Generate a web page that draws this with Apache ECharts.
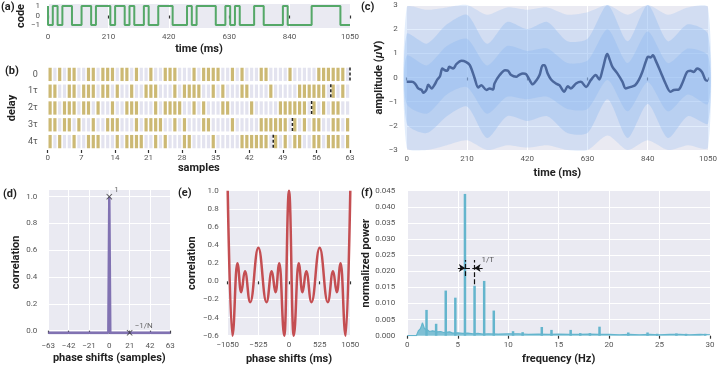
<!DOCTYPE html>
<html><head><meta charset="utf-8">
<script src="https://cdn.jsdelivr.net/npm/echarts@6/dist/echarts.min.js"></script>
<style>html,body{margin:0;padding:0;background:#fff}#c{width:720px;height:367px}</style>
</head><body><div id="c"></div>
<script>
const FONT = 'Roboto,"Liberation Sans",sans-serif';

// ---------- (a) / (b) code and its delayed copies ----------
const codeMsTotal = 1050;
const delayLabels = ['0', '1\u03c4', '2\u03c4', '3\u03c4', '4\u03c4'];
const delayRows = [
  "1010110 0110111 0110100 1001110 0010111 1001010 0011000 0100000 1111110",
  "110 0110111 0110100 1001110 0010111 1001010 0011000 0100000 1111110 1010",
  "110111 0110100 1001110 0010111 1001010 0011000 0100000 1111110 10101100",
  "11 0110100 1001110 0010111 1001010 0011000 0100000 1111110 1010110 01101",
  "10100 1001110 0010111 1001010 0011000 0100000 1111110 1010110 0110111 01"
];
const wrapMarks = [63, 59, 55, 51, 47];
const codeYTicks = [-1, 0, 1];

// ---------- (c) averaged response and trial cloud ----------
const cTimes = [0,18,29,40,52,58,69,75,87,98,106,116,124,133,142,148,162,173,191,206,220,237,249,260,278,289,301,306,324,343,353,364,382,391,405,416,428,439,453,463,474,480,491,503,520,532,549,561,572,590,607,625,642,659,671,682,694,699,708,717,734,752,763,781,796,809,821,833,841,850,858,867,885,902,919,931,948,960,977,989,1000,1012,1029,1041,1050];
const cMean = [-0.18,-0.18,-0.25,-0.45,-0.52,-0.63,-0.5,-0.3,-0.45,-0.28,-0.1,0.05,0.37,0.3,0.28,0.44,0.37,0.55,0.69,0.65,0.51,-0.04,-0.41,-0.32,-0.52,-0.45,-0.5,-0.25,0.1,0.3,0.28,0.1,0.03,0.1,0.17,0.14,-0.1,-0.28,-0.1,0.1,0.51,0.51,0.17,-0.08,-0.25,-0.32,-0.59,-0.36,-0.45,-0.25,-0.18,-0.39,-0.1,0.1,-0.08,0.3,0.86,0.97,0.72,0.44,0.17,-0.18,-0.45,-0.39,-0.32,-0.1,0.23,0.65,0.86,0.83,0.92,0.72,0.23,-0.25,-0.59,-0.52,-0.5,-0.25,0.23,0.28,0.23,0.37,0.23,-0.1,-0.14];
const envT    = [0,70,140,210,280,350,420,490,560,630,700,770,840,910,980,1050];
const outerHi = [2.9,2.8,2.9,3.0,2.6,2.9,2.8,2.9,2.6,2.7,3.0,2.6,3.0,2.6,2.9,2.9];
const outerLo = [-2.9,-3.0,-2.8,-2.6,-3.0,-2.8,-2.9,-2.8,-3.0,-3.0,-2.4,-3.0,-2.6,-3.0,-2.8,-2.9];
const midHi   = [1.8,1.4,2.2,2.6,1.4,2.3,2.0,2.3,1.5,1.6,3.0,1.5,3.0,1.5,2.2,1.8];
const midLo   = [-1.9,-2.3,-1.6,-1.2,-2.5,-1.6,-1.8,-1.6,-2.3,-2.3,-0.9,-2.5,-1.1,-2.5,-1.6,-1.9];
const coreHi  = [0.9,0.5,1.3,1.6,0.5,1.3,1.1,1.2,0.6,0.7,2.0,0.6,1.9,0.6,1.2,0.9];
const coreLo  = [-1.1,-1.5,-0.7,-0.4,-1.5,-0.8,-0.9,-0.8,-1.3,-1.3,-0.1,-1.4,-0.2,-1.4,-0.7,-1.1];

// ---------- (d) ideal autocorrelation ----------
const dShift = [-63, -1, 0, 1, 63];
const dCorr  = [-0.016, -0.016, 1, -0.016, -0.016];
const dMarks = [[0, 1, '1'], [21, -0.016, '\u22121/N']];
const dYTicks = [0, 0.2, 0.4, 0.6, 0.8, 1.0];

// ---------- (e) autocorrelation of the response ----------
const eShift = [-1050,-970,-885,-820,-755,-665,-525,-385,-295,-230,-165,-80,0,80,165,230,295,385,525,665,755,820,885,970,1050];
const eCorr  = [1.0,-0.6,0.2,-0.12,0.11,-0.23,0.37,-0.23,0.11,-0.12,0.2,-0.6,1.0,-0.6,0.2,-0.12,0.11,-0.23,0.37,-0.23,0.11,-0.12,0.2,-0.6,1.0];

// ---------- (f) power spectrum ----------
const fBaseFreq = [0,0.9,1.0,1.1,1.2,1.3,1.4,1.5,1.6,1.7,1.8,2.0,2.2,2.5,3.0,3.3,3.6,4.2,4.5,5.0,5.5,6.0,6.5,7.0,7.5,8.0,9.0,10,11,12,13,14,15,16,17,18,19,20,21,22,23,24,25,26,27,28,29,30];
const fBasePow  = [0,0,0.0008,0.0015,0.0018,0.0022,0.003,0.004,0.0038,0.0022,0.0016,0.0018,0.0013,0.0015,0.0012,0.0013,0.001,0.0012,0.0008,0.0009,0.0007,0.0008,0.0006,0.0007,0.0005,0.0006,0.0005,0.0006,0.0006,0.0004,0.0005,0.0004,0.0005,0.0004,0.0004,0.0005,0.0004,0.0004,0.0003,0.0004,0.0003,0.0004,0.0003,0.0004,0.0004,0.0003,0.0004,0.0003];
const fSpikeFreq = [1.905,2.857,3.810,4.762,5.714,6.667,7.619,8.571,10.48,11.43,13.33,14.29,16.19,17.14,18.10,19.05,21.90,23.81,24.76,26.67,27.62,29.52];
const fSpikePow  = [0.0080,0.0037,0.0140,0.0118,0.0440,0.0155,0.0170,0.0078,0.0014,0.0011,0.0027,0.0018,0.0018,0.0008,0.0008,0.0028,0.0010,0.0010,0.0006,0.0007,0.0006,0.0006];
const periodFreqs = [5.714, 6.667];
const periodLevel = 0.021;

// ================= build =================
const BG = '#EAEAF2';
const C = {green:'#55A868', gold:'#CCB974', blue:'#4B679C', cloud:'#8DB6F2', purple:'#8172B2', red:'#C44E52', cyan:'#64B5CD'};
const fmtMinus = s => String(s).replace('-', '\u2212');
const tickLbl = {fontFamily: FONT, fontSize: 8, color: '#555'};
const nameStyle = {fontFamily: FONT, fontSize: 11, fontWeight: 'bold', color: '#222'};

function xAx(grid, min, max, interval, name, gap, margin, fmt, split) {
  return {
    gridIndex: grid, type: 'value', min, max, interval,
    name, nameLocation: 'middle', nameGap: gap, nameTextStyle: nameStyle,
    axisLine: {show: false},
    axisTick: {show: true, length: 3, lineStyle: {color: '#333', width: 1.2}},
    axisLabel: Object.assign({margin, formatter: fmt || (v => fmtMinus(v)), showMinLabel: true, showMaxLabel: true, hideOverlap: false}, tickLbl),
    splitLine: {show: split !== false, lineStyle: {color: '#fff', width: 1}}
  };
}
function yAx(grid, min, max, interval, name, gap, margin, fmt, extra) {
  return Object.assign({
    gridIndex: grid, type: 'value', min, max, interval,
    name, nameLocation: 'middle', nameGap: gap, nameTextStyle: nameStyle,
    axisLine: {show: false}, axisTick: {show: false},
    axisLabel: Object.assign({margin, formatter: fmt || (v => fmtMinus(v)), hideOverlap: false}, tickLbl),
    splitLine: {show: true, lineStyle: {color: '#fff', width: 1}}
  }, extra || {});
}

const grids = [
  {left: 48, top: 4, width: 302, height: 24},
  {left: 47.7, top: 66, width: 302.3, height: 84},
  {left: 406.7, top: 5, width: 302.6, height: 145},
  {left: 48.3, top: 190, width: 122, height: 144.7},
  {left: 227.7, top: 190.7, width: 122.6, height: 145},
  {left: 407.3, top: 190.7, width: 302.7, height: 145}
].map((g, i) => Object.assign({show: i !== 1, backgroundColor: BG, borderWidth: 0}, g));

const xAxes = [
  xAx(0, 0, 1050, 210, 'time (ms)', 16, 5),
  xAx(1, 0, 63, 7, 'samples', 12, 4, null, false),
  xAx(2, 0, 1050, 210, 'time (ms)', 18, 5),
  xAx(3, -63, 63, 21, 'phase shifts (samples)', 18, 7),
  xAx(4, -1050, 1050, 525, 'phase shifts (ms)', 18, 5),
  xAx(5, 0, 30, 5, 'frequency (Hz)', 18, 5)
];
const yAxes = [
  yAx(0, -1.3, 1.2, null, 'code', 21, 8, null, {
    axisLabel: Object.assign({margin: 8, customValues: codeYTicks, formatter: v => fmtMinus(v), hideOverlap: false, lineHeight: 8}, tickLbl),
    axisTick: {show: false, customValues: codeYTicks}, splitLine: {show: false}}),
  {gridIndex: 1, type: 'category', data: delayLabels, inverse: true,
   name: 'delay', nameLocation: 'middle', nameGap: 30, nameTextStyle: nameStyle,
   axisLine: {show: false}, axisTick: {show: false}, splitLine: {show: false},
   axisLabel: Object.assign({margin: 10}, tickLbl, {fontSize: 9})},
  yAx(2, -3, 3, 1, 'amplitude ({i|\u03bc}V)', 19, 9, null, {
    nameTextStyle: Object.assign({}, nameStyle, {rich: {i: Object.assign({}, nameStyle, {fontStyle: 'italic'})}})}),
  yAx(3, -0.03, 1.05, null, 'correlation', 27, 11, null, {
    axisLabel: Object.assign({margin: 11, customValues: dYTicks, formatter: v => v.toFixed(1), hideOverlap: false}, tickLbl),
    axisTick: {show: false, customValues: dYTicks}}),
  yAx(4, -0.6, 1.0, 0.2, 'correlation', 30, 9, v => fmtMinus(v.toFixed(1))),
  yAx(5, 0, 0.045, 0.005, 'normalized power', 30, 12, v => v.toFixed(3))
];

// (b) cells
const cellData = [];
delayRows.forEach((s, r) => s.replace(/ /g, '').split('').forEach((b, i) => cellData.push([i, r, +b])));

function bandSeries(lo, hi, opacity) {
  return {
    type: 'custom', xAxisIndex: 2, yAxisIndex: 2, silent: true, z: 1,
    data: [[0, 0]],
    renderItem: (params, api) => {
      const pts = [];
      for (let i = 0; i < envT.length; i++) pts.push(api.coord([envT[i], hi[i]]));
      for (let i = envT.length - 1; i >= 0; i--) pts.push(api.coord([envT[i], lo[i]]));
      return {type: 'polygon', shape: {points: pts, smooth: 0.25}, style: {fill: C.cloud, opacity}};
    }
  };
}

const msPerChip = codeMsTotal / 63;
const row0 = delayRows[0].replace(/ /g, '').split('').map(Number);
const codeLine = row0.map((b, i) => [i * msPerChip, b ? 1 : -1]);
codeLine.push([codeMsTotal, row0[row0.length - 1] ? 1 : -1]);

const series = [
  // (a)
  {type: 'line', xAxisIndex: 0, yAxisIndex: 0, data: codeLine, step: 'start', symbol: 'none',
   lineStyle: {color: C.green, width: 2}, clip: false},
  // (b)
  {type: 'custom', xAxisIndex: 1, yAxisIndex: 1, data: cellData, silent: true,
   renderItem: (params, api) => {
     const p0 = api.coord([api.value(0), api.value(1)]);
     const p1 = api.coord([api.value(0) + 1, api.value(1)]);
     const bh = api.size([0, 1])[1];
     return {type: 'rect', shape: {x: p0[0] + 0.8, y: p0[1] - bh / 2 + 1.75, width: p1[0] - p0[0] - 1.6, height: bh - 3.5},
             style: {fill: api.value(2) ? C.gold : '#E3E3EF'}};
   }},
  {type: 'custom', xAxisIndex: 1, yAxisIndex: 1, data: wrapMarks.map((x, r) => [x, r]), silent: true, clip: false, z: 5,
   renderItem: (params, api) => {
     const p = api.coord([api.value(0), api.value(1)]);
     const bh = api.size([0, 1])[1];
     return {type: 'line', shape: {x1: p[0], y1: p[1] - bh / 2 + 1.5, x2: p[0], y2: p[1] + bh / 2 - 1.5},
             style: {stroke: '#222', lineWidth: 1.5, lineDash: [3, 2]}};
   }},
  // (c)
  bandSeries(outerLo, outerHi, 0.25),
  bandSeries(midLo, midHi, 0.35),
  bandSeries(coreLo, coreHi, 0.35),
  {type: 'line', xAxisIndex: 2, yAxisIndex: 2, data: cTimes.map((t, i) => [t, cMean[i]]), symbol: 'none', smooth: 0.3, z: 3,
   lineStyle: {color: C.blue, width: 2.5}},
  // (d)
  {type: 'line', xAxisIndex: 3, yAxisIndex: 3, data: dShift.map((x, i) => [x, dCorr[i]]), symbol: 'none', clip: false,
   lineStyle: {color: C.purple, width: 2.5}},
  {type: 'scatter', xAxisIndex: 3, yAxisIndex: 3, data: dMarks, z: 5, clip: false,
   symbol: 'path://M1,0 L5,4 L9,0 L10,1 L6,5 L10,9 L9,10 L5,6 L1,10 L0,9 L4,5 L0,1 Z', symbolSize: 6,
   itemStyle: {color: '#333'},
   label: {show: true, formatter: p => p.value[2], position: 'right', offset: [-3, -7],
           fontFamily: FONT, fontSize: 8, color: '#444'}},
  // (e)
  {type: 'line', xAxisIndex: 4, yAxisIndex: 4, data: eShift.map((x, i) => [x, eCorr[i]]), symbol: 'none',
   smooth: 0.45, smoothMonotone: 'x', clip: false, lineStyle: {color: C.red, width: 2.5}},
  // (f)
  {type: 'line', xAxisIndex: 5, yAxisIndex: 5, data: fBaseFreq.map((f, i) => [f, fBasePow[i]]), symbol: 'none',
   lineStyle: {color: C.cyan, width: 1.2}, areaStyle: {color: C.cyan, opacity: 0.8}},
  {type: 'bar', xAxisIndex: 5, yAxisIndex: 5, data: fSpikeFreq.map((f, i) => [f, fSpikePow[i]]), barWidth: 2.5,
   itemStyle: {color: C.cyan}, silent: true,
   markLine: {silent: true, symbol: ['none', 'none'], animation: false, label: {show: false},
     lineStyle: {type: 'dashed', color: '#111', width: 1.2},
     data: [
       [{coord: [periodFreqs[0] - 0.7, periodLevel]}, {coord: [periodFreqs[1] + 0.8, periodLevel]}],
       [{coord: [periodFreqs[0], periodLevel - 0.0025]}, {coord: [periodFreqs[0], periodLevel + 0.0025]}],
       [{coord: [periodFreqs[1], periodLevel - 0.005]}, {coord: [periodFreqs[1], periodLevel + 0.0025]}],
       [{coord: [periodFreqs[0] - 0.5, periodLevel], symbol: 'none'}, {coord: [periodFreqs[0], periodLevel], symbol: 'arrow', symbolSize: 6}],
       [{coord: [periodFreqs[1] + 0.5, periodLevel], symbol: 'none'}, {coord: [periodFreqs[1], periodLevel], symbol: 'arrow', symbolSize: 6}]
     ]}},
  {type: 'scatter', xAxisIndex: 5, yAxisIndex: 5, data: [[periodFreqs[1], periodLevel]], symbolSize: 0, silent: true,
   label: {show: true, formatter: '1/T', position: 'right', offset: [2, -8], fontFamily: FONT, fontSize: 8, color: '#333'}}
];

const panelLbl = (t, left, top) => ({type: 'text', left, top, silent: true,
  style: {text: t, font: 'bold 11px ' + FONT, fill: '#222'}});

const chart = echarts.init(document.getElementById('c'));
chart.setOption({
  animation: false,
  grid: grids, xAxis: xAxes, yAxis: yAxes, series,
  graphic: [panelLbl('(a)', 1, 2), panelLbl('(b)', 5, 66), panelLbl('(c)', 361, 2),
            panelLbl('(d)', 3, 189), panelLbl('(e)', 178, 188), panelLbl('(f)', 361, 188)]
});
</script></body></html>
